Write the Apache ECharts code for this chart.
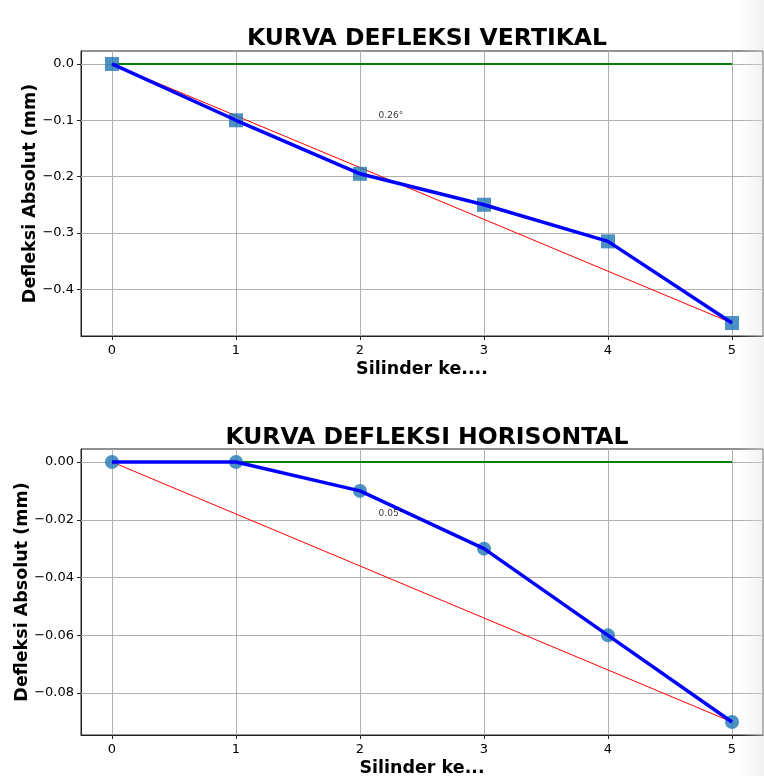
<!DOCTYPE html>
<html><head><meta charset="utf-8">
<script src="https://cdn.jsdelivr.net/npm/echarts@6/dist/echarts.min.js"></script>
<style>html,body{margin:0;padding:0;background:#fff}#c{width:764px;height:776px}</style>
</head><body><div id="c"></div>
<script>
// Data
const silinder = [0, 1, 2, 3, 4, 5];
const defleksiVertikal = [0, -0.1, -0.195, -0.25, -0.315, -0.46];
const defleksiHorisontal = [0, 0, -0.01, -0.03, -0.06, -0.09];
const xTicks = [0, 1, 2, 3, 4, 5];
const yTicksV = [0, -0.1, -0.2, -0.3, -0.4];
const yTicksH = [0, -0.02, -0.04, -0.06, -0.08];
const sudutV = '0.26°';
const sudutH = '0.05°';
const annotV = [2.15, -0.1];
const annotH = [2.15, -0.0195];

const chart = echarts.init(document.getElementById('c'));
const FONT = 'DejaVu Sans';
const fmtMinus = d => v => (v < 0 ? '\u2212' : '') + Math.abs(v).toFixed(d);

function pad(vals){ const mn=Math.min(...vals), mx=Math.max(...vals), r=mx-mn; return [mn-0.05*r, mx+0.05*r]; }

function xAxisCfg(gi, name){
  return {type:'value', gridIndex:gi, min:-0.25, max:5.25,
    name:name, nameLocation:'middle', nameGap:24, nameMoveOverlap:false,
    nameTextStyle:{fontFamily:FONT, fontWeight:'bold', fontSize:17.5, color:'#000'},
    axisLine:{show:true, onZero:false, lineStyle:{color:'#222'}},
    axisTick:{show:true, length:4, customValues:xTicks, lineStyle:{color:'#222'}},
    axisLabel:{customValues:xTicks, fontFamily:FONT, fontSize:13, color:'#000', margin:8, formatter: v=>String(v)},
    splitLine:{show:false}};
}
function yAxisCfg(gi, ticks, dec, lim, gap){
  return {type:'value', gridIndex:gi, min:lim[0], max:lim[1],
    name:'Defleksi Absolut (mm)', nameLocation:'middle', nameGap:gap, nameRotate:90, nameMoveOverlap:false,
    nameTextStyle:{fontFamily:FONT, fontWeight:'bold', fontSize:17.5, color:'#000'},
    axisLine:{show:true, onZero:false, lineStyle:{color:'#222'}},
    axisTick:{show:true, length:4, customValues:ticks, lineStyle:{color:'#222'}},
    axisLabel:{customValues:ticks, fontFamily:FONT, fontSize:13, color:'#000', margin:7, formatter: fmtMinus(dec)},
    splitLine:{show:false}};
}
function gridLines(xi, yt){
  const d = xTicks.map(v=>({xAxis:v})).concat(yt.map(v=>({yAxis:v})));
  return {type:'line', xAxisIndex:xi, yAxisIndex:xi, data:[], z:1, silent:true,
    markLine:{silent:true, z:1, symbol:'none', label:{show:false}, animation:false,
      lineStyle:{color:'#b0b0b0', width:1, type:'solid'}, data:d}};
}
function seriesFor(xi, ys, sym, annot, txt){
  const n = silinder.length-1;
  return [
    gridLines(xi, xi===0?yTicksV:yTicksH),
    {type:'line', xAxisIndex:xi, yAxisIndex:xi, data:[[silinder[0],0],[silinder[n],0]], symbol:'none', lineStyle:{color:'#008000', width:2}, z:3, animation:false},
    {type:'line', xAxisIndex:xi, yAxisIndex:xi, data:[[silinder[0],ys[0]],[silinder[n],ys[n]]], symbol:'none', lineStyle:{color:'#ff0000', width:1}, z:3, animation:false},
    {type:'scatter', xAxisIndex:xi, yAxisIndex:xi, data:silinder.map((x,i)=>[x,ys[i]]), symbol:sym, symbolSize:14, itemStyle:{color:'#1f77b4'}, z:4, animation:false},
    {type:'line', xAxisIndex:xi, yAxisIndex:xi, data:silinder.map((x,i)=>[x,ys[i]]), symbol:'none', lineStyle:{color:'#0000ff', width:3.5}, z:5, animation:false},
    {type:'scatter', xAxisIndex:xi, yAxisIndex:xi, data:[annot], symbolSize:0, z:6, animation:false,
      label:{show:true, position:[0,0], align:'left', verticalAlign:'bottom', formatter:txt, fontFamily:FONT, fontSize:9, color:'#000'}}
  ];
}

chart.setOption({
  backgroundColor:'#fff',
  animation:false,
  title:[
    {text:'KURVA DEFLEKSI VERTIKAL', left:422, top:22, textAlign:'center', textStyle:{fontFamily:FONT, fontWeight:'bold', fontSize:23.5, color:'#000'}},
    {text:'KURVA DEFLEKSI HORISONTAL', left:422, top:421, textAlign:'center', textStyle:{fontFamily:FONT, fontWeight:'bold', fontSize:23.5, color:'#000'}}
  ],
  grid:[
    {left:81, right:1, top:51, height:285, show:true, outerBoundsMode:'none', containLabel:false, borderColor:'#222', borderWidth:1, backgroundColor:'transparent'},
    {left:81, right:1, top:449, height:286, show:true, outerBoundsMode:'none', containLabel:false, borderColor:'#222', borderWidth:1, backgroundColor:'transparent'}
  ],
  xAxis:[xAxisCfg(0,'Silinder ke....'), xAxisCfg(1,'Silinder ke...')],
  yAxis:[yAxisCfg(0,yTicksV,1,pad(defleksiVertikal.concat([0])),42), yAxisCfg(1,yTicksH,2,pad(defleksiHorisontal.concat([0])),50)],
  graphic:[{type:'rect', z:100, silent:true, shape:{x:738, y:0, width:26, height:776},
    style:{fill:{type:'linear', x:0, y:0, x2:1, y2:0, colorStops:[{offset:0, color:'rgba(225,225,225,0)'},{offset:1, color:'rgba(225,225,225,0.45)'}]}}}],
  series:[].concat(seriesFor(0, defleksiVertikal, 'rect', annotV, sudutV), seriesFor(1, defleksiHorisontal, 'circle', annotH, sudutH))
});
</script></body></html>
